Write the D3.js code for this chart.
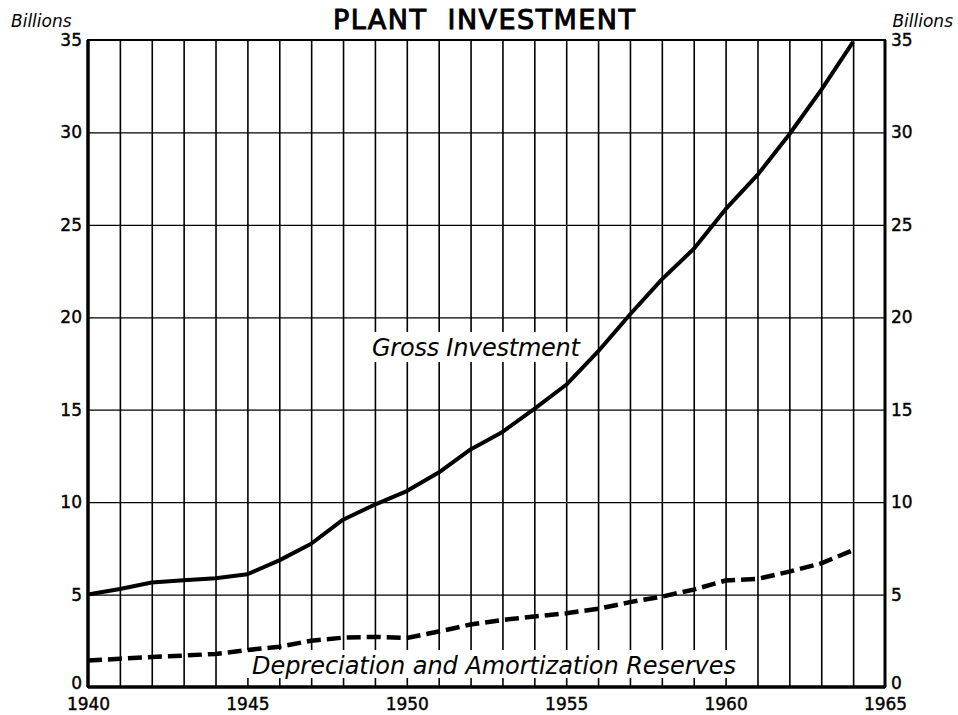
<!DOCTYPE html>
<html>
<head>
<meta charset="utf-8">
<script src="https://cdn.jsdelivr.net/npm/d3@7"></script>
<style>
  body { margin: 0; background: #fff; }
  svg { display: block; }
  text { font-family: "DejaVu Sans", sans-serif; fill: #000; }
</style>
</head>
<body>
<div id="chart"></div>
<script>
// years on the x axis
var years = d3.range(1940, 1965);

// Gross Investment, billions
var grossInvestment = [5.0, 5.3, 5.65, 5.77, 5.88, 6.1, 6.85, 7.75, 9.05, 9.87,
    10.6, 11.6, 12.85, 13.8, 15.05, 16.35, 18.15, 20.15, 22.05, 23.7,
    25.85, 27.7, 29.9, 32.3, 34.9];

// Depreciation and Amortization Reserves, billions
var depreciation = [1.43, 1.53, 1.62, 1.7, 1.79, 2.0, 2.18, 2.5, 2.67, 2.71,
    2.65, 3.0, 3.38, 3.63, 3.81, 3.99, 4.23, 4.59, 4.89, 5.27,
    5.76, 5.85, 6.24, 6.69, 7.4];

var yTicks = [0, 5, 10, 15, 20, 25, 30, 35];
var xTicks = [1940, 1945, 1950, 1955, 1960, 1965];

var width = 958, height = 715;
var margin = {top: 40, right: 73, bottom: 28, left: 88};
var w = width - margin.left - margin.right;
var h = height - margin.top - margin.bottom;

var svg = d3.select("#chart").append("svg")
    .attr("width", width)
    .attr("height", height);

var g = svg.append("g")
    .attr("transform", "translate(" + margin.left + "," + margin.top + ")");

var x = d3.scaleLinear().domain([1940, 1965]).range([0, w]);
var y = d3.scaleLinear().domain([0, 35]).range([h, 0]);

// vertical grid, one line a year
g.append("g")
    .attr("class", "vgrid")
    .attr("transform", "translate(0," + h + ")")
    .call(d3.axisBottom(x).tickValues(d3.range(1941, 1965)).tickSize(-h).tickFormat(""))
    .call(function(s) {
        s.select(".domain").remove();
        s.selectAll("line").attr("stroke", "#000").attr("stroke-width", 1.6);
    });

// horizontal grid
g.append("g")
    .attr("class", "hgrid")
    .call(d3.axisLeft(y).tickValues([5, 10, 15, 20, 25, 30]).tickSize(-w).tickFormat(""))
    .call(function(s) {
        s.select(".domain").remove();
        s.selectAll("line").attr("stroke", "#000").attr("stroke-width", 1.3);
    });

// white boxes behind the series labels
function labelBox(cx, cy, bw, bh) {
    g.append("rect")
        .attr("x", cx - bw / 2).attr("y", cy - bh / 2)
        .attr("width", bw).attr("height", bh)
        .attr("fill", "#fff");
}
labelBox(476 - margin.left, 347 - margin.top, 222, 30);
labelBox(494 - margin.left, 664 - margin.top, 500, 28);

// frame
g.append("rect")
    .attr("width", w).attr("height", h)
    .attr("fill", "none").attr("stroke", "#000").attr("stroke-width", 2);
g.append("line").attr("x1", 0).attr("x2", 0).attr("y1", 0).attr("y2", h)
    .attr("stroke", "#000").attr("stroke-width", 3.5);
g.append("line").attr("x1", 0).attr("x2", w).attr("y1", h).attr("y2", h)
    .attr("stroke", "#000").attr("stroke-width", 3.5);
g.append("line").attr("x1", w).attr("x2", w).attr("y1", 0).attr("y2", h)
    .attr("stroke", "#000").attr("stroke-width", 3);

// axes labels
function styleAxis(s) {
    s.select(".domain").remove();
    s.selectAll("line").remove();
    s.selectAll("text").style("font-size", "17px").attr("fill", "#000")
        .attr("stroke", "#000").attr("stroke-width", 0.4);
}
// the "0" sits just above the year labels, lift it a little
function liftZero(s) {
    s.selectAll(".tick").filter(function(d) { return d === 0; })
        .select("text").attr("dy", "0.1em");
}
g.append("g")
    .call(d3.axisLeft(y).tickValues(yTicks).tickSize(0).tickPadding(6))
    .call(styleAxis).call(liftZero);
g.append("g")
    .attr("transform", "translate(" + w + ",0)")
    .call(d3.axisRight(y).tickValues(yTicks).tickSize(0).tickPadding(6))
    .call(styleAxis).call(liftZero);
g.append("g")
    .attr("transform", "translate(0," + h + ")")
    .call(d3.axisBottom(x).tickValues(xTicks).tickFormat(d3.format("d")).tickSize(0).tickPadding(11))
    .call(styleAxis);

// series lines
var line = d3.line()
    .x(function(d, i) { return x(years[i]); })
    .y(function(d) { return y(d); });

g.append("path")
    .datum(grossInvestment)
    .attr("d", line)
    .attr("fill", "none")
    .attr("stroke", "#000")
    .attr("stroke-width", 4)
    .attr("stroke-linejoin", "round");

g.append("path")
    .datum(depreciation)
    .attr("d", line)
    .attr("fill", "none")
    .attr("stroke", "#000")
    .attr("stroke-width", 4.5)
    .attr("stroke-dasharray", "14,6");

// series labels
g.append("text")
    .attr("x", 372 - margin.left).attr("y", 356 - margin.top)
    .attr("textLength", 208)
    .style("font-size", "24px").style("font-style", "italic")
    .text("Gross Investment");

g.append("text")
    .attr("x", 252 - margin.left).attr("y", 674 - margin.top)
    .attr("textLength", 484)
    .style("font-size", "24px").style("font-style", "italic")
    .text("Depreciation and Amortization Reserves");

// title and unit labels
svg.append("text")
    .attr("x", 333).attr("y", 29)
    .attr("textLength", 302)
    .style("white-space", "pre")
    .style("font-size", "27px")
    .attr("stroke", "#000").attr("stroke-width", 1)
    .text("PLANT  INVESTMENT");

svg.append("text")
    .attr("x", 11).attr("y", 27)
    .style("font-size", "17px").style("font-style", "italic")
    .text("Billions");

svg.append("text")
    .attr("x", 953).attr("y", 27)
    .attr("text-anchor", "end")
    .style("font-size", "17px").style("font-style", "italic")
    .text("Billions");
</script>
</body>
</html>
